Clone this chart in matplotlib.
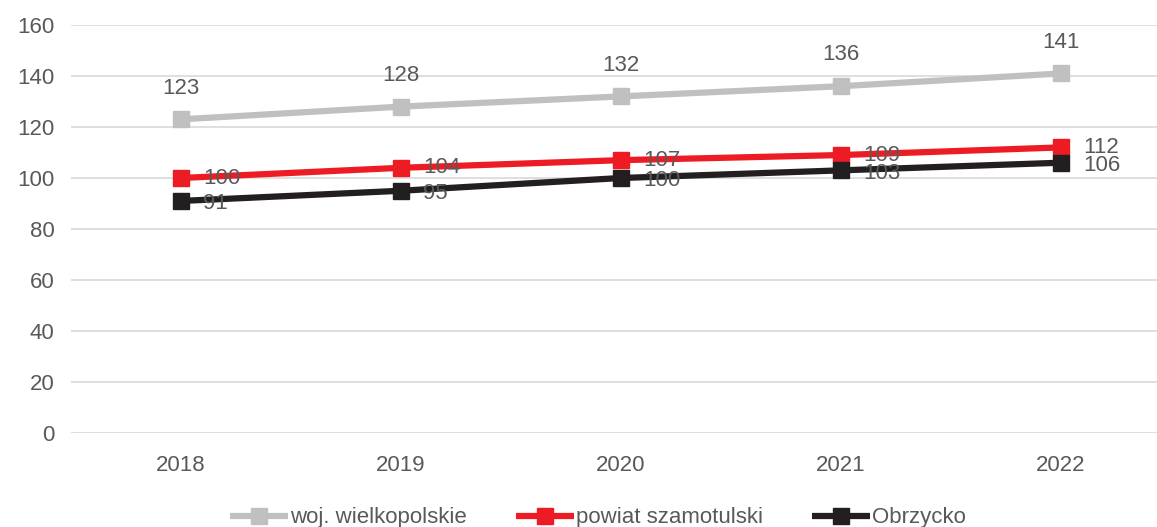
import matplotlib
matplotlib.use("Agg")
import matplotlib.pyplot as plt

years = ["2018", "2019", "2020", "2021", "2022"]
woj = [123, 128, 132, 136, 141]
powiat = [100, 104, 107, 109, 112]
obrzycko = [91, 95, 100, 103, 106]
names = ["woj. wielkopolskie", "powiat szamotulski", "Obrzycko"]
colors = ["#C0C0C0", "#ED1C24", "#231F20"]

plt.rcParams['font.family'] = ['Liberation Sans', 'DejaVu Sans']
W, H = 1157, 527
fig = plt.figure(figsize=(W/100, H/100), dpi=100)
ax = fig.add_axes([71/W, 1-433/H, 1100/W, 408/H])

x = list(range(len(years)))
series = [woj, powiat, obrzycko]
for vals, name, c in zip(series, names, colors):
    ax.plot(x, vals, color=c, lw=4.5, marker='s', markersize=11, label=name, solid_capstyle='butt')

tc = "#595959"
fs = 16
for i, v in enumerate(woj):
    ax.annotate(str(v), (i, v), xytext=(0, 15), textcoords='offset points', ha='center', va='bottom', fontsize=fs, color=tc)
for i, v in enumerate(powiat):
    ax.annotate(str(v), (i, v), xytext=(16, 0), textcoords='offset points', ha='left', va='center', fontsize=fs, color=tc)
for i, v in enumerate(obrzycko):
    ax.annotate(str(v), (i, v), xytext=(16, -2), textcoords='offset points', ha='left', va='center', fontsize=fs, color=tc)

ax.set_xlim(-0.5, 4.5)
ax.set_ylim(0, 160)
ax.set_yticks(range(0, 161, 20))
ax.set_xticks(x)
ax.set_xticklabels(years)
ax.tick_params(axis='both', length=0, labelsize=fs, labelcolor=tc)
ax.tick_params(axis='x', pad=16)
ax.tick_params(axis='y', pad=12)
ax.grid(axis='y', color='#D9D9D9', lw=1.2)
ax.set_axisbelow(True)
for s in ax.spines.values():
    s.set_visible(False)

leg = fig.legend(loc='center', bbox_to_anchor=(598/W, 1-518/H), ncol=3, frameon=False,
                 fontsize=fs, labelcolor=tc, handlelength=2.6, handletextpad=0.1, columnspacing=2.2)
fig.savefig("out.png", dpi=100)
